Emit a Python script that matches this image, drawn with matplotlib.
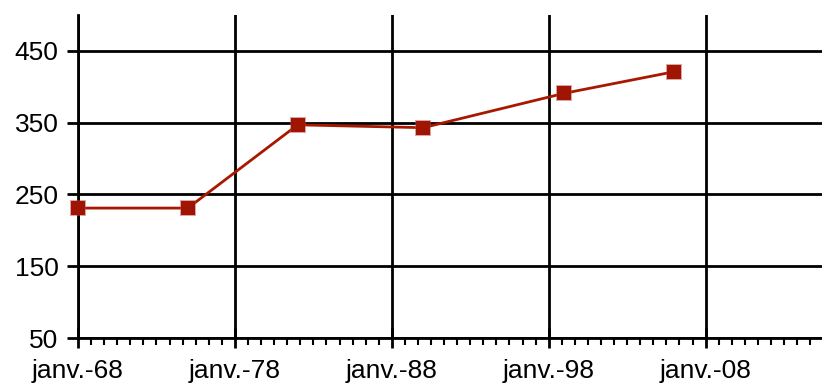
import matplotlib
matplotlib.use("Agg")
import matplotlib.pyplot as plt
import pandas as pd

plt.rcParams['font.family'] = ['Liberation Sans', 'DejaVu Sans']

# census years and population values
dates = ['1968-01-01', '1975-01-01', '1982-01-01', '1990-01-01', '1999-01-01', '2006-01-01']
values = [231, 231, 347, 343, 391, 421]
yticks = [50, 150, 250, 350, 450]
major_years = [1968, 1978, 1988, 1998, 2008]

x = pd.to_datetime(dates)

fig = plt.figure(figsize=(8.22, 3.85), dpi=100)
ax = fig.add_axes([78 / 822, 47 / 385, 1 - 78 / 822, 323 / 385])

ax.plot(x, values, color='#a81800', lw=2, zorder=3, clip_on=False)
# soft halo then solid square markers
ax.plot(x, values, ls='none', marker='s', ms=11.5, color='#c04848', mew=0,
        alpha=0.5, zorder=4, clip_on=False)
ax.plot(x, values, ls='none', marker='s', ms=9.5, color='#a01404', mew=0,
        zorder=5, clip_on=False)

ax.set_ylim(50, 500)
ax.set_yticks(yticks)
ax.set_xlim(pd.Timestamp('1968-01-01'), pd.Timestamp('2015-06-01'))

majors = [pd.Timestamp(f'{y}-01-01') for y in major_years]
ax.set_xticks(majors)
ax.set_xticklabels([f"janv.-{str(y)[2:]}" for y in major_years])
minors = pd.date_range('1968-01-01', '2015-06-01', freq='10MS')
ax.set_xticks(minors, minor=True)

ax.grid(True, which='major', color='black', lw=2)
for s in ['top', 'right']:
    ax.spines[s].set_visible(False)
for s in ['left', 'bottom']:
    ax.spines[s].set_linewidth(2)

ax.tick_params(axis='y', which='major', length=8, width=2, labelsize=19, pad=6)
ax.tick_params(axis='x', which='major', direction='inout', length=14, width=2,
               labelsize=19, pad=8)
ax.tick_params(axis='x', which='minor', direction='out', length=5, width=1.5)

fig.savefig('out.png', dpi=100)
